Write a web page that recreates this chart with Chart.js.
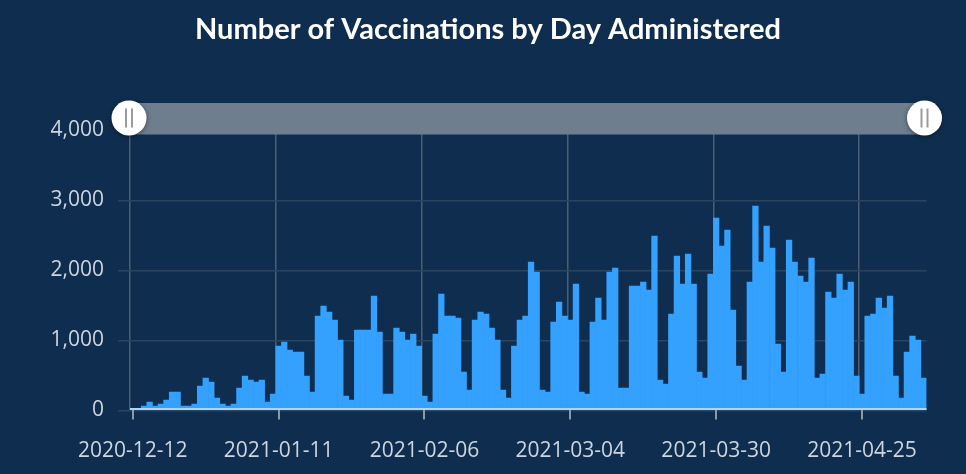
<!DOCTYPE html>
<html>
<head>
<meta charset="utf-8">
<title>Number of Vaccinations by Day Administered</title>
<script src="https://cdn.jsdelivr.net/npm/chart.js@4.4.1/dist/chart.umd.min.js"></script>
<style>
  html, body { margin: 0; padding: 0; background: #0f2e4f; }
  #wrap { width: 966px; height: 474px; position: relative; }
</style>
</head>
<body>
<div id="wrap"><canvas id="vaxChart"></canvas></div>
<script>
// ---- data ----
const chartTitle = 'Number of Vaccinations by Day Administered';
const firstDay = '2020-12-12';
const skippedDays = ['2020-12-13', '2020-12-20', '2020-12-25', '2021-01-01'];
const tickEvery = 26;
const yTicks = [0, 1000, 2000, 3000, 4000];

const dailyDoses = [
  20, 25, 64, 121, 64, 93, 150, 264, 264, 64,
  64, 93, 350, 464, 407, 179, 93, 64, 93, 321,
  493, 436, 407, 436, 121, 236, 921, 979, 864, 836,
  836, 493, 264, 1350, 1493, 1407, 1293, 1007, 207, 150,
  1150, 1150, 1150, 1636, 1121, 236, 236, 1179, 1121, 1007,
  1093, 921, 207, 121, 1093, 1664, 1350, 1350, 1321, 550,
  293, 1293, 1407, 1379, 1179, 1007, 293, 179, 921, 1293,
  1350, 2121, 1979, 293, 264, 1264, 1550, 1350, 1293, 1807,
  264, 236, 1264, 1607, 1293, 1979, 2036, 321, 321, 1779,
  1779, 1836, 1721, 2493, 436, 379, 1379, 2207, 1807, 2236,
  1807, 550, 464, 1950, 2750, 2350, 2579, 1436, 636, 436,
  1836, 2921, 2121, 2636, 2321, 950, 550, 2436, 2121, 1921,
  1836, 2179, 464, 521, 1693, 1607, 1950, 1721, 1836, 493,
  236, 1350, 1379, 1607, 1464, 1636, 493, 179, 836, 1064,
  1007, 464
];

// consecutive reporting days, a few December days have no entry
function buildDays(start, count, skip) {
  const out = [];
  const d = new Date(start + 'T00:00:00Z');
  while (out.length < count) {
    const s = d.toISOString().slice(0, 10);
    if (!skip.includes(s)) out.push(s);
    d.setUTCDate(d.getUTCDate() + 1);
  }
  return out;
}
const days = buildDays(firstDay, dailyDoses.length, skippedDays);

const labelColor = '#cdd5de';
const tickFont = { family: '"Open Sans", "Noto Sans", sans-serif', size: 21 };

// title, axis line + tick marks over the bars, and the range slider on top
const overlayPlugin = {
  id: 'overlay',
  beforeDraw(chart) {
    const { ctx, width } = chart;
    ctx.save();
    ctx.fillStyle = '#ffffff';
    ctx.font = 'bold 29px Lato, "Open Sans", sans-serif';
    ctx.textAlign = 'center';
    ctx.textBaseline = 'alphabetic';
    ctx.fillText(chartTitle, width / 2 + 5, 39);
    ctx.restore();
  },
  afterDatasetsDraw(chart) {
    const { ctx, chartArea: a, scales: { x } } = chart;
    ctx.save();
    ctx.strokeStyle = '#a9d6fa';
    ctx.lineWidth = 2;
    ctx.beginPath();
    ctx.moveTo(a.left, a.bottom - 1.5);
    ctx.lineTo(a.right, a.bottom - 1.5);
    ctx.stroke();

    ctx.strokeStyle = '#8d99a6';
    ctx.lineWidth = 2;
    days.forEach((d, i) => {
      if (i % tickEvery) return;
      const px = Math.round(x.getPixelForValue(i));
      ctx.beginPath();
      ctx.moveTo(px, a.bottom - 0.5);
      ctx.lineTo(px, a.bottom + 9);
      ctx.stroke();
    });
    ctx.restore();
  },
  afterDraw(chart) {
    const { ctx, chartArea: a } = chart;
    const left = a.left - 1, right = a.right - 2;
    const top = a.top - 27.5, h = 31.5;
    const cy = top + 15;
    ctx.save();
    ctx.fillStyle = '#6e7e8f';
    ctx.fillRect(left, top, right - left, h);

    [left, right].forEach(cx => {
      ctx.save();
      ctx.shadowColor = 'rgba(0,0,0,0.45)';
      ctx.shadowBlur = 5;
      ctx.shadowOffsetY = 1;
      ctx.fillStyle = '#ffffff';
      ctx.beginPath();
      ctx.arc(cx, cy, 17.5, 0, Math.PI * 2);
      ctx.fill();
      ctx.restore();
      ctx.fillStyle = '#9b9b9b';
      ctx.fillRect(cx - 4, cy - 9.5, 2, 19);
      ctx.fillRect(cx + 2, cy - 9.5, 2, 19);
    });
    ctx.restore();
  }
};

new Chart(document.getElementById('vaxChart'), {
  type: 'bar',
  data: {
    labels: days,
    datasets: [{
      label: 'Vaccinations',
      data: dailyDoses,
      backgroundColor: '#33a1fd',
      borderWidth: 0,
      barPercentage: 1,
      categoryPercentage: 1
    }]
  },
  options: {
    responsive: true,
    maintainAspectRatio: false,
    animation: false,
    layout: { padding: { left: 0, right: 39.5, top: 130.5, bottom: 0 } },
    plugins: {
      legend: { display: false },
      tooltip: { enabled: false },
      title: { display: false }
    },
    scales: {
      x: {
        offset: true,
        grid: {
          offset: true,
          drawTicks: false,
          color: ctx => (ctx.index % tickEvery === 0 ? '#4b5e73' : 'transparent'),
          lineWidth: 1.5
        },
        border: { display: false },
        ticks: {
          autoSkip: false,
          maxRotation: 0,
          minRotation: 0,
          padding: 28,
          color: labelColor,
          font: tickFont,
          callback: (v, i) => (i % tickEvery === 0 ? days[i] : '')
        },
        afterFit: scale => { scale.height = 63.5; }
      },
      y: {
        min: 0,
        max: 4000,
        afterBuildTicks: scale => { scale.ticks = yTicks.map(v => ({ value: v })); },
        grid: { color: '#2b4561', tickLength: 12, lineWidth: 1.5 },
        border: { display: false },
        ticks: {
          padding: 14,
          color: labelColor,
          font: tickFont,
          callback: v => v.toLocaleString('en-US')
        },
        afterFit: scale => { scale.width = 130; }
      }
    }
  },
  plugins: [overlayPlugin]
});
</script>
</body>
</html>
